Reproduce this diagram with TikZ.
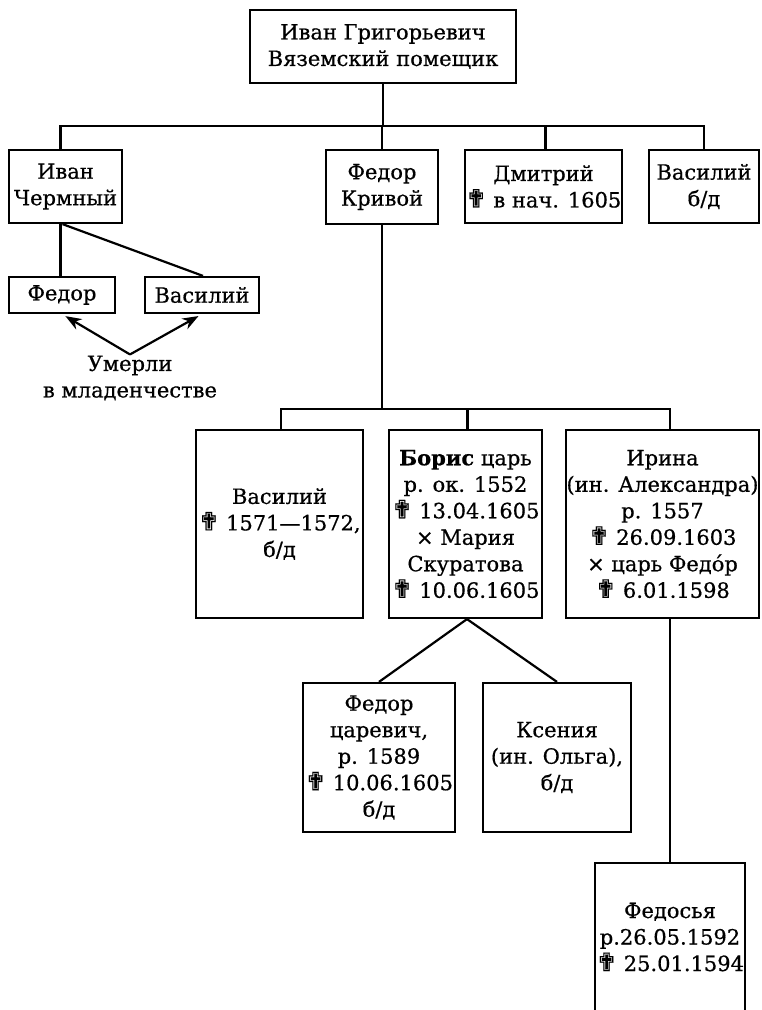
\documentclass[tikz,border=0pt]{standalone}
\usepackage{fontspec}
\setmainfont[FakeBold=0.6]{DejaVu Serif}
\newfontfamily\crossfont[Scale=1.2,FakeBold=0.6]{DejaVu Sans}
\newcommand{\dg}{{\crossfont ✟}}
\usetikzlibrary{arrows.meta}
\tikzset{
  box/.style={draw, line width=2.2pt, align=center, inner sep=0.5pt},
  link/.style={line width=2.2pt},
  arr/.style={line width=2.2pt, -{Stealth[length=16pt,width=12pt]}, shorten >=4pt},
}
\begin{document}
\begin{tikzpicture}[x=1pt, y=-1pt, font=\fontsize{21}{26.5}\selectfont]
  \useasboundingbox (0,0) rectangle (762,1010);
  % root
  \node[box, minimum width=266, minimum height=73] (ivg) at (383,46.5) {Иван Григорьевич\\Вяземский помещик};
  % sons
  \node[box, minimum width=113, minimum height=73] (ivch) at (65.5,186.5) {Иван\\Чермный};
  \node[box, minimum width=112, minimum height=74] (fkr) at (382,187) {Федор\\Кривой};
  \node[box, minimum width=151, minimum height=73] (dmi) at (543.5,186.5) {Дмитрий\\\dg{} в нач. 1605};
  \node[box, minimum width=110, minimum height=73] (vas) at (704,186.5) {Василий\\б/д};
  % children of Ivan Chermny
  \node[box, minimum width=106, minimum height=36] (fed) at (62,295) {Федор};
  \node[box, minimum width=114, minimum height=36] (vsm) at (202,295) {Василий};
  \node[align=center, inner sep=1pt] (inf) at (130,378) {Умерли\\в младенчестве};
  % children of Fedor Krivoy
  \node[box, minimum width=167, minimum height=188] (vas2) at (279.5,524) {Василий\\\dg{} 1571—1572,\\б/д};
  \node[box, minimum width=153, minimum height=188] (bor) at (465.5,524) {\textbf{Борис} царь\\р. ок. 1552\\\dg{} 13.04.1605\\× Мария\\Скуратова\\\dg{} 10.06.1605};
  \node[box, minimum width=193, minimum height=188] (iri) at (662.5,524) {Ирина\\(ин. Александра)\\р. 1557\\\dg{} 26.09.1603\\× царь Федо́р\\\dg{} 6.01.1598};
  % children of Boris
  \node[box, minimum width=152, minimum height=149] (fts) at (379,757.5) {Федор\\царевич,\\р. 1589\\\dg{} 10.06.1605\\б/д};
  \node[box, minimum width=148, minimum height=149] (kse) at (557,757.5) {Ксения\\(ин. Ольга),\\б/д};
  % daughter of Irina
  \node[align=center, inner sep=1pt] (fds) at (670,937) {Федосья\\р.26.05.1592\\\dg{} 25.01.1594};
  \draw[link] (595,1012) |- (745,863) -- (745,1012);
  \coordinate (fdstop) at (670,863);

  % connectors
  \draw[link] (ivg.south) -- ++(0,42) coordinate (bus1);
  \draw[link] ([xshift=-5]ivch.north) |- (bus1) -| (vas.north);
  \draw[link] (fkr.north) -- (fkr.north |- bus1);
  \draw[link] ([xshift=2]dmi.north) -- ([xshift=2]dmi.north |- bus1);
  \draw[link] ([xshift=-5]ivch.south) -- ([xshift=-5]ivch.south |- fed.north);
  \draw[link] ([xshift=-3]ivch.south) -- ([xshift=1]vsm.north);
  \draw[arr] (inf.north) -- (fed.south);
  \draw[arr] (inf.north) -- (vsm.south);
  \draw[link] (fkr.south) -- ++(0,184) coordinate (bus2);
  \draw[link] ([xshift=1.5]vas2.north) |- (bus2) -| ([xshift=7.5]iri.north);
  \draw[link] ([xshift=2]bor.north) -- ([xshift=2]bor.north |- bus2);
  \draw[link] ([xshift=1.5]bor.south) -- (fts.north);
  \draw[link] ([xshift=1.5]bor.south) -- (kse.north);
  \draw[link] ([xshift=7.5]iri.south) -- (fdstop);
\end{tikzpicture}
\end{document}
